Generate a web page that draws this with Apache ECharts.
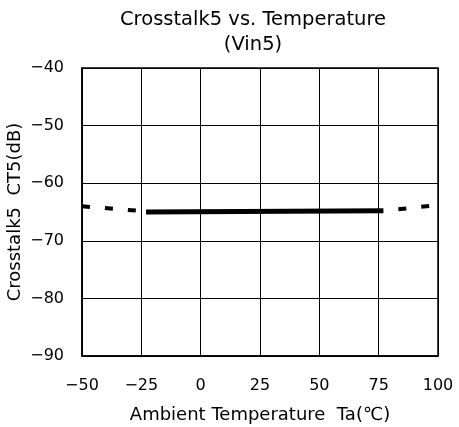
<!DOCTYPE html>
<html>
<head>
<meta charset="utf-8">
<script src="https://cdn.jsdelivr.net/npm/echarts@6/dist/echarts.min.js"></script>
<style>html,body{margin:0;padding:0;background:#fff;}#c{width:459px;height:427px;}</style>
</head>
<body>
<div id="c"></div>
<script>
var xTicks = [-50, -25, 0, 25, 50, 75, 100];
var yTicks = [-90, -80, -70, -60, -50, -40];
var leftDashed = [[-50, -64.0], [-23, -64.9]];
var solidLine = [[-23, -65.0], [77, -64.8]];
var rightDashed = [[77, -64.8], [100, -63.8]];

var FONT = 'DejaVu Sans';
function fmt(v) { return String(v).replace('-', '\u2212'); }

var chart = echarts.init(document.getElementById('c'));
chart.setOption({
  backgroundColor: '#fff',
  animation: false,
  title: {
    text: 'Crosstalk5 vs. Temperature\n(Vin5)',
    left: 248,
    top: 2,
    textAlign: 'center',
    textStyle: { fontFamily: FONT, fontSize: 19.5, fontWeight: 'normal', color: '#000', lineHeight: 25 }
  },
  grid: { left: 82, right: 21, top: 68, bottom: 71, outerBoundsMode: 'none', containLabel: false, show: true, borderColor: '#000', borderWidth: 1.5, backgroundColor: 'transparent' },
  xAxis: {
    type: 'value', min: xTicks[0], max: xTicks[xTicks.length - 1], interval: 25,
    name: 'Ambient Temperature  Ta(\u2103)', nameLocation: 'middle', nameGap: 50,
    nameTextStyle: { fontFamily: FONT, fontSize: 18, color: '#000' },
    axisLine: { onZero: false, lineStyle: { color: '#000', width: 1.5 } },
    axisTick: { show: false },
    axisLabel: { fontFamily: FONT, fontSize: 16, color: '#000', margin: 22, formatter: fmt },
    splitLine: { show: true, lineStyle: { color: '#000', width: 1 } }
  },
  yAxis: {
    type: 'value', min: yTicks[0], max: yTicks[yTicks.length - 1], interval: 10,
    name: 'Crosstalk5  CT5(dB)', nameLocation: 'middle', nameGap: 58, nameMoveOverlap: false,
    nameTextStyle: { fontFamily: FONT, fontSize: 18, color: '#000' },
    axisLine: { onZero: false, lineStyle: { color: '#000', width: 1.5 } },
    axisTick: { show: false },
    axisLabel: { fontFamily: FONT, fontSize: 16, color: '#000', margin: 18, formatter: fmt },
    splitLine: { show: true, lineStyle: { color: '#000', width: 1 } }
  },
  series: [
    { type: 'line', data: leftDashed, showSymbol: false, lineStyle: { color: '#000', width: 4, type: [8, 15] } },
    { type: 'line', data: solidLine, showSymbol: false, lineStyle: { color: '#000', width: 5 } },
    { type: 'line', data: rightDashed, showSymbol: false, lineStyle: { color: '#000', width: 4, type: [8, 15], dashOffset: -15 } }
  ]
});
</script>
</body>
</html>
